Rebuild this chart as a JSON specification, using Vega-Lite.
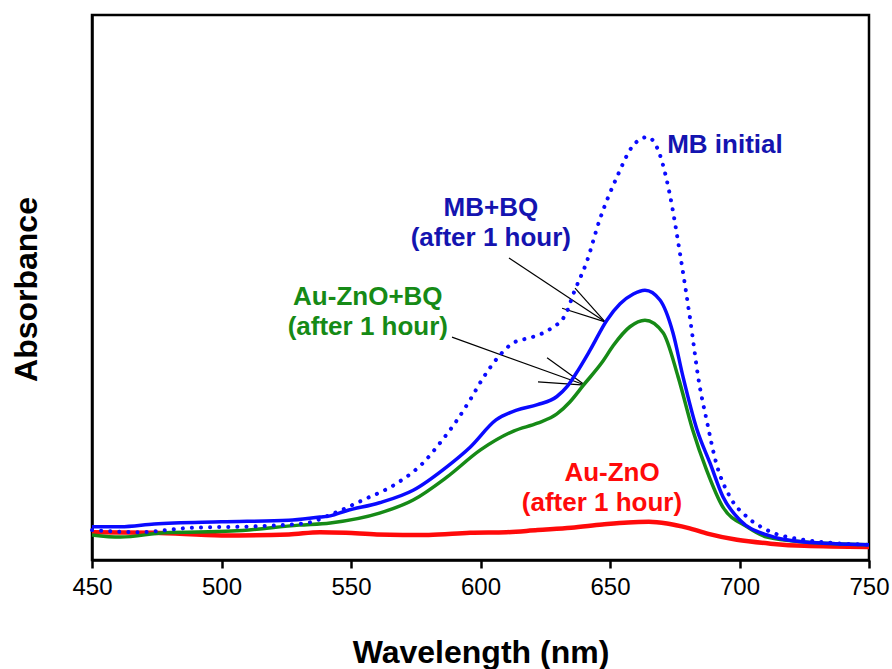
{
  "$schema": "https://vega.github.io/schema/vega-lite/v6.json",
  "autosize": {"type": "none"},
  "padding": {"left": 92, "top": 15, "right": 23, "bottom": 109},
  "width": 777,
  "height": 545,
  "background": "white",
  "config": {
    "font": "Liberation Sans",
    "view": {"stroke": "black", "strokeWidth": 2.5}
  },
  "datasets": {
    "spectra": [
      {"s": "MB initial", "w": 450, "a": 0.055},
      {"s": "MB initial", "w": 468, "a": 0.051},
      {"s": "MB initial", "w": 488, "a": 0.059},
      {"s": "MB initial", "w": 514, "a": 0.062},
      {"s": "MB initial", "w": 533, "a": 0.068},
      {"s": "MB initial", "w": 542, "a": 0.083},
      {"s": "MB initial", "w": 554.6, "a": 0.110},
      {"s": "MB initial", "w": 567.8, "a": 0.141},
      {"s": "MB initial", "w": 577.8, "a": 0.178},
      {"s": "MB initial", "w": 584.4, "a": 0.215},
      {"s": "MB initial", "w": 591, "a": 0.257},
      {"s": "MB initial", "w": 596, "a": 0.294},
      {"s": "MB initial", "w": 601, "a": 0.334},
      {"s": "MB initial", "w": 607.5, "a": 0.376},
      {"s": "MB initial", "w": 612.5, "a": 0.398},
      {"s": "MB initial", "w": 620, "a": 0.409},
      {"s": "MB initial", "w": 627, "a": 0.424},
      {"s": "MB initial", "w": 633, "a": 0.452},
      {"s": "MB initial", "w": 636, "a": 0.490},
      {"s": "MB initial", "w": 641, "a": 0.547},
      {"s": "MB initial", "w": 646, "a": 0.624},
      {"s": "MB initial", "w": 652.7, "a": 0.703},
      {"s": "MB initial", "w": 659, "a": 0.761},
      {"s": "MB initial", "w": 664.5, "a": 0.776},
      {"s": "MB initial", "w": 669, "a": 0.747},
      {"s": "MB initial", "w": 673, "a": 0.673},
      {"s": "MB initial", "w": 677, "a": 0.563},
      {"s": "MB initial", "w": 681, "a": 0.440},
      {"s": "MB initial", "w": 684.4, "a": 0.325},
      {"s": "MB initial", "w": 687.3, "a": 0.257},
      {"s": "MB initial", "w": 691, "a": 0.178},
      {"s": "MB initial", "w": 696.3, "a": 0.116},
      {"s": "MB initial", "w": 702.9, "a": 0.079},
      {"s": "MB initial", "w": 710.6, "a": 0.055},
      {"s": "MB initial", "w": 725, "a": 0.037},
      {"s": "MB initial", "w": 750, "a": 0.028},

      {"s": "MB+BQ", "w": 450, "a": 0.061},
      {"s": "MB+BQ", "w": 461, "a": 0.061},
      {"s": "MB+BQ", "w": 474, "a": 0.066},
      {"s": "MB+BQ", "w": 500, "a": 0.070},
      {"s": "MB+BQ", "w": 526, "a": 0.073},
      {"s": "MB+BQ", "w": 538, "a": 0.079},
      {"s": "MB+BQ", "w": 542, "a": 0.081},
      {"s": "MB+BQ", "w": 548, "a": 0.090},
      {"s": "MB+BQ", "w": 561, "a": 0.105},
      {"s": "MB+BQ", "w": 574, "a": 0.128},
      {"s": "MB+BQ", "w": 587, "a": 0.171},
      {"s": "MB+BQ", "w": 596, "a": 0.207},
      {"s": "MB+BQ", "w": 606, "a": 0.257},
      {"s": "MB+BQ", "w": 614, "a": 0.275},
      {"s": "MB+BQ", "w": 622, "a": 0.285},
      {"s": "MB+BQ", "w": 629.5, "a": 0.300},
      {"s": "MB+BQ", "w": 633.4, "a": 0.318},
      {"s": "MB+BQ", "w": 637, "a": 0.343},
      {"s": "MB+BQ", "w": 642.3, "a": 0.385},
      {"s": "MB+BQ", "w": 648.8, "a": 0.440},
      {"s": "MB+BQ", "w": 653.9, "a": 0.470},
      {"s": "MB+BQ", "w": 659, "a": 0.488},
      {"s": "MB+BQ", "w": 663.5, "a": 0.495},
      {"s": "MB+BQ", "w": 669.3, "a": 0.477},
      {"s": "MB+BQ", "w": 674.3, "a": 0.417},
      {"s": "MB+BQ", "w": 678.2, "a": 0.336},
      {"s": "MB+BQ", "w": 683.6, "a": 0.239},
      {"s": "MB+BQ", "w": 688.6, "a": 0.178},
      {"s": "MB+BQ", "w": 693.6, "a": 0.116},
      {"s": "MB+BQ", "w": 700.2, "a": 0.073},
      {"s": "MB+BQ", "w": 710.6, "a": 0.046},
      {"s": "MB+BQ", "w": 725, "a": 0.033},
      {"s": "MB+BQ", "w": 750, "a": 0.028},

      {"s": "Au-ZnO+BQ", "w": 450, "a": 0.046},
      {"s": "Au-ZnO+BQ", "w": 461, "a": 0.042},
      {"s": "Au-ZnO+BQ", "w": 478, "a": 0.050},
      {"s": "Au-ZnO+BQ", "w": 504, "a": 0.053},
      {"s": "Au-ZnO+BQ", "w": 530, "a": 0.064},
      {"s": "Au-ZnO+BQ", "w": 542, "a": 0.068},
      {"s": "Au-ZnO+BQ", "w": 561, "a": 0.086},
      {"s": "Au-ZnO+BQ", "w": 574, "a": 0.110},
      {"s": "Au-ZnO+BQ", "w": 587, "a": 0.152},
      {"s": "Au-ZnO+BQ", "w": 600, "a": 0.202},
      {"s": "Au-ZnO+BQ", "w": 613, "a": 0.237},
      {"s": "Au-ZnO+BQ", "w": 622, "a": 0.251},
      {"s": "Au-ZnO+BQ", "w": 629.5, "a": 0.268},
      {"s": "Au-ZnO+BQ", "w": 634.5, "a": 0.290},
      {"s": "Au-ZnO+BQ", "w": 639.6, "a": 0.320},
      {"s": "Au-ZnO+BQ", "w": 647.3, "a": 0.365},
      {"s": "Au-ZnO+BQ", "w": 651.2, "a": 0.393},
      {"s": "Au-ZnO+BQ", "w": 657.7, "a": 0.428},
      {"s": "Au-ZnO+BQ", "w": 663.5, "a": 0.440},
      {"s": "Au-ZnO+BQ", "w": 670.5, "a": 0.417},
      {"s": "Au-ZnO+BQ", "w": 676.3, "a": 0.336},
      {"s": "Au-ZnO+BQ", "w": 681.9, "a": 0.239},
      {"s": "Au-ZnO+BQ", "w": 687.3, "a": 0.165},
      {"s": "Au-ZnO+BQ", "w": 693.6, "a": 0.097},
      {"s": "Au-ZnO+BQ", "w": 702.9, "a": 0.061},
      {"s": "Au-ZnO+BQ", "w": 710.6, "a": 0.042},
      {"s": "Au-ZnO+BQ", "w": 725, "a": 0.033},
      {"s": "Au-ZnO+BQ", "w": 750, "a": 0.028},

      {"s": "Au-ZnO", "w": 450, "a": 0.051},
      {"s": "Au-ZnO", "w": 474, "a": 0.050},
      {"s": "Au-ZnO", "w": 500, "a": 0.045},
      {"s": "Au-ZnO", "w": 526, "a": 0.047},
      {"s": "Au-ZnO", "w": 538, "a": 0.051},
      {"s": "Au-ZnO", "w": 548, "a": 0.050},
      {"s": "Au-ZnO", "w": 560, "a": 0.047},
      {"s": "Au-ZnO", "w": 580, "a": 0.046},
      {"s": "Au-ZnO", "w": 596, "a": 0.050},
      {"s": "Au-ZnO", "w": 610, "a": 0.051},
      {"s": "Au-ZnO", "w": 622, "a": 0.055},
      {"s": "Au-ZnO", "w": 635, "a": 0.059},
      {"s": "Au-ZnO", "w": 647, "a": 0.065},
      {"s": "Au-ZnO", "w": 657, "a": 0.069},
      {"s": "Au-ZnO", "w": 665, "a": 0.070},
      {"s": "Au-ZnO", "w": 672, "a": 0.067},
      {"s": "Au-ZnO", "w": 680, "a": 0.059},
      {"s": "Au-ZnO", "w": 688, "a": 0.048},
      {"s": "Au-ZnO", "w": 699, "a": 0.037},
      {"s": "Au-ZnO", "w": 712, "a": 0.030},
      {"s": "Au-ZnO", "w": 725, "a": 0.026},
      {"s": "Au-ZnO", "w": 750, "a": 0.024}
    ],
    "labels": [
      {"t": "MB initial", "w": 694.4, "a": 0.761, "c": "blue"},
      {"t": "MB+BQ", "w": 604, "a": 0.646, "c": "blue"},
      {"t": "(after 1 hour)", "w": 604, "a": 0.590, "c": "blue"},
      {"t": "Au-ZnO+BQ", "w": 556.5, "a": 0.483, "c": "green"},
      {"t": "(after 1 hour)", "w": 556.5, "a": 0.428, "c": "green"},
      {"t": "Au-ZnO", "w": 650.8, "a": 0.160, "c": "red"},
      {"t": "(after 1 hour)", "w": 646.9, "a": 0.105, "c": "red"}
    ],
    "arrows": [
      {"w": 611, "a": 0.554, "w2": 648.1, "a2": 0.437},
      {"w": 636.5, "a": 0.499, "w2": 648.1, "a2": 0.437},
      {"w": 631.5, "a": 0.462, "w2": 648.1, "a2": 0.437},
      {"w": 589, "a": 0.409, "w2": 640.3, "a2": 0.321},
      {"w": 625.7, "a": 0.371, "w2": 640.3, "a2": 0.321},
      {"w": 622.2, "a": 0.327, "w2": 640.3, "a2": 0.321}
    ]
  },
  "layer": [
    {
      "data": {"name": "arrows"},
      "mark": {"type": "rule", "color": "black", "strokeWidth": 1.2},
      "encoding": {
        "x": {"field": "w", "type": "quantitative"},
        "y": {"field": "a", "type": "quantitative"},
        "x2": {"field": "w2"},
        "y2": {"field": "a2"}
      }
    },
    {
      "data": {"name": "spectra"},
      "transform": [{"filter": "datum.s === 'Au-ZnO'"}],
      "mark": {"type": "line", "color": "#ff0a0a", "strokeWidth": 4.5, "interpolate": "monotone"},
      "encoding": {
        "x": {"field": "w", "type": "quantitative"},
        "y": {"field": "a", "type": "quantitative"}
      }
    },
    {
      "data": {"name": "spectra"},
      "transform": [{"filter": "datum.s === 'Au-ZnO+BQ'"}],
      "mark": {"type": "line", "color": "#168a16", "strokeWidth": 3.5, "interpolate": "monotone"},
      "encoding": {
        "x": {"field": "w", "type": "quantitative"},
        "y": {"field": "a", "type": "quantitative"}
      }
    },
    {
      "data": {"name": "spectra"},
      "transform": [{"filter": "datum.s === 'MB+BQ'"}],
      "mark": {"type": "line", "color": "#0a0aff", "strokeWidth": 3.5, "interpolate": "monotone"},
      "encoding": {
        "x": {"field": "w", "type": "quantitative"},
        "y": {"field": "a", "type": "quantitative"}
      }
    },
    {
      "data": {"name": "spectra"},
      "transform": [{"filter": "datum.s === 'MB initial'"}],
      "mark": {"type": "line", "color": "#0a0aff", "strokeWidth": 4, "strokeDash": [0.1, 9], "strokeCap": "round", "interpolate": "monotone"},
      "encoding": {
        "x": {
          "field": "w", "type": "quantitative",
          "scale": {"domain": [450, 750], "nice": false, "zero": false},
          "axis": {
            "values": [450, 500, 550, 600, 650, 700, 750],
            "grid": false,
            "domainColor": "black", "domainWidth": 2.5,
            "tickColor": "black", "tickWidth": 2.5, "tickSize": 8,
            "labelFont": "Liberation Sans", "labelFontSize": 24, "labelColor": "black", "labelPadding": 7,
            "labelFlush": false,
            "title": "Wavelength (nm)",
            "titleFont": "Liberation Sans", "titleFontSize": 32, "titleFontWeight": "bold", "titleColor": "black",
            "titleBaseline": "alphabetic", "titleY": 102
          }
        },
        "y": {
          "field": "a", "type": "quantitative",
          "scale": {"domain": [0, 1], "nice": false},
          "axis": {
            "labels": false, "ticks": false, "grid": false,
            "domainColor": "black", "domainWidth": 2.5,
            "title": "Absorbance",
            "titleFont": "Liberation Sans", "titleFontSize": 32, "titleFontWeight": "bold", "titleColor": "black",
            "titleAngle": -90, "titleAlign": "center", "titleBaseline": "middle",
            "titleX": -66, "titleY": 274
          }
        }
      }
    },
    {
      "data": {"name": "labels"},
      "mark": {"type": "text", "font": "Liberation Sans", "fontSize": 26, "fontWeight": "bold", "align": "center", "baseline": "middle"},
      "encoding": {
        "x": {"field": "w", "type": "quantitative"},
        "y": {"field": "a", "type": "quantitative"},
        "text": {"field": "t"},
        "color": {
          "field": "c", "type": "nominal",
          "scale": {"domain": ["blue", "green", "red"], "range": ["#1414b0", "#168a16", "#ff0a0a"]},
          "legend": null
        }
      }
    }
  ]
}
